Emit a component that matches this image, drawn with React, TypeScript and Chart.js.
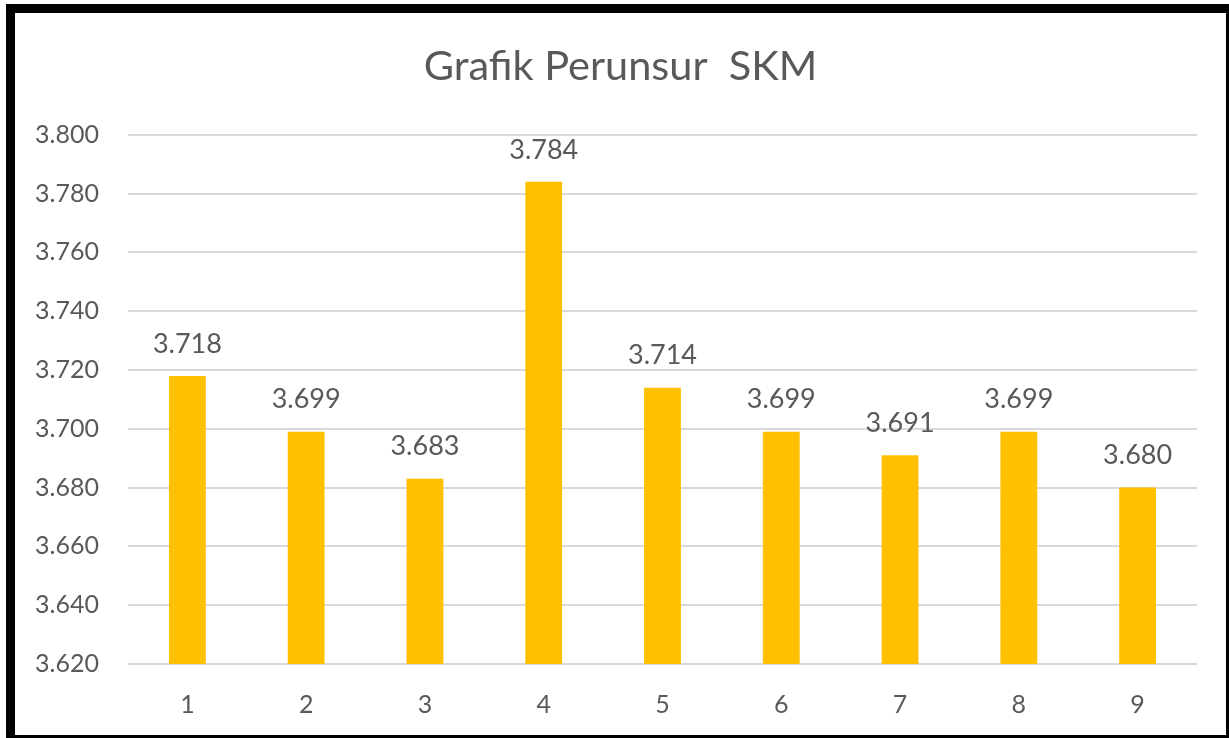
import React, { useEffect, useRef } from "react";
import { Chart, registerables } from "chart.js";

Chart.register(...registerables);

const categories = ["1", "2", "3", "4", "5", "6", "7", "8", "9"];
const values = [3.718, 3.699, 3.683, 3.784, 3.714, 3.699, 3.691, 3.699, 3.68];
const yMin = 3.62;
const yMax = 3.8;
const yStep = 0.02;
const titleText = "Grafik Perunsur  SKM";

const FONT = "Lato, 'Open Sans', sans-serif";
const TEXT_COLOR = "#595959";

const dataLabelPlugin = {
  id: "dataLabels",
  afterDatasetsDraw(chart: any) {
    const ctx = chart.ctx;
    const meta = chart.getDatasetMeta(0);
    ctx.save();
    ctx.font = `27px ${FONT}`;
    ctx.fillStyle = TEXT_COLOR;
    ctx.textAlign = "center";
    ctx.textBaseline = "middle";
    meta.data.forEach((bar: any, i: number) => {
      ctx.fillText(values[i].toFixed(3), bar.x, bar.y - 32);
    });
    ctx.restore();
  },
};

export default function App() {
  const ref = useRef<HTMLCanvasElement>(null);
  useEffect(() => {
    if (!ref.current) return;
    const chart = new Chart(ref.current, {
      type: "bar",
      data: {
        labels: categories,
        datasets: [
          {
            data: values,
            backgroundColor: "#FFC000",
            borderWidth: 0,
            barPercentage: 0.31,
            categoryPercentage: 1,
            yAxisID: "y",
          },
        ],
      },
      options: {
        responsive: false,
        animation: false,
        layout: { padding: 0 },
        plugins: {
          legend: { display: false },
          tooltip: { enabled: false },
          title: {
            display: true,
            text: titleText,
            color: TEXT_COLOR,
            font: { family: FONT, size: 41.5, weight: "normal" },
            padding: { top: 29, bottom: 43 },
          },
        },
        scales: {
          x: {
            grid: { display: false, drawTicks: false },
            border: { display: false },
            ticks: {
              color: TEXT_COLOR,
              font: { family: FONT, size: 25 },
              padding: 26,
            },
            afterFit(scale: any) {
              scale.height = 71;
            },
          },
          y: {
            min: yMin,
            max: yMax,
            grid: { color: "#D9D9D9", lineWidth: 2, drawTicks: false },
            border: { display: false },
            ticks: {
              stepSize: yStep,
              color: TEXT_COLOR,
              font: { family: FONT, size: 25 },
              padding: 29,
              callback: (v: any) => Number(v).toFixed(3),
            },
            afterFit(scale: any) {
              scale.width = 113;
            },
          },
          yRight: {
            position: "right",
            min: yMin,
            max: yMax,
            grid: { display: false, drawTicks: false },
            border: { display: false },
            ticks: { display: false },
            afterFit(scale: any) {
              scale.width = 29;
            },
          },
        },
      },
      plugins: [dataLabelPlugin],
    });
    return () => chart.destroy();
  }, []);

  return (
    <div
      style={{
        position: "absolute",
        left: 6,
        top: 4,
        width: 1223,
        height: 734,
        boxSizing: "border-box",
        borderStyle: "solid",
        borderColor: "#000",
        borderTopWidth: 9,
        borderLeftWidth: 9,
        borderRightWidth: 3,
        borderBottomWidth: 3,
        background: "#fff",
      }}
    >
      <canvas ref={ref} width={1211} height={722} style={{ display: "block", width: 1211, height: 722 }} />
    </div>
  );
}
